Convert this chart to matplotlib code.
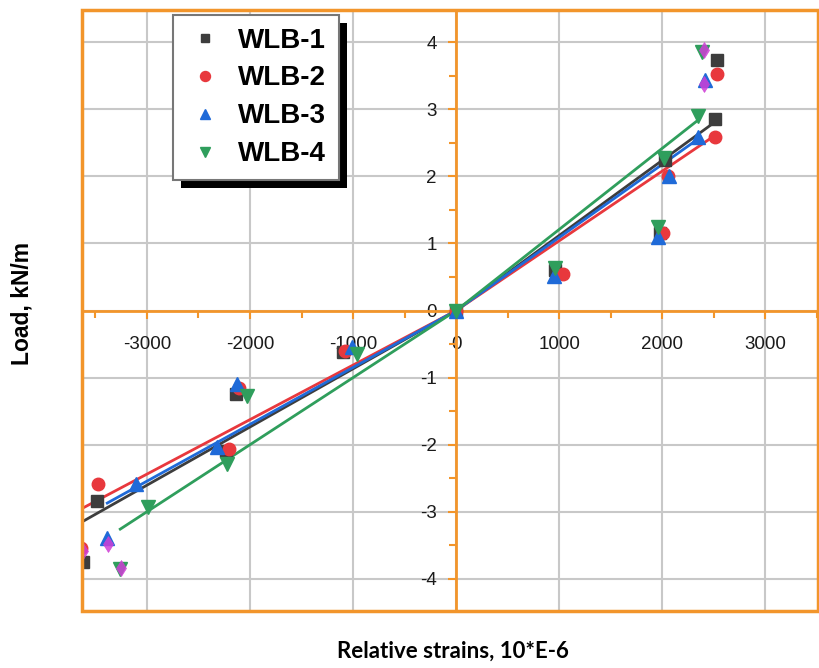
import numpy as np
import matplotlib
matplotlib.use("Agg")
import matplotlib.pyplot as plt
from matplotlib.patches import Rectangle
from matplotlib.transforms import IdentityTransform
from matplotlib.ticker import MultipleLocator

plt.rcParams["axes.unicode_minus"] = False

# data
labels = ["WLB-1", "WLB-2", "WLB-3", "WLB-4"]

x1 = [0, 960, 1980, 2030, 2507, 2527, -1100, -2137, -2234, -3483, -3620]
y1 = [0, 0.60, 1.15, 2.25, 2.85, 3.73, -0.62, -1.24, -2.10, -2.84, -3.75]

x2 = [0, 1034, 2010, 2050, 2507, 2527, -1083, -2110, -2205, -3473, -3639]
y2 = [0, 0.55, 1.15, 2.00, 2.58, 3.52, -0.60, -1.15, -2.06, -2.58, -3.54]

x3 = [0, 950, 1960, 2060, 2350, 2410, -1015, -2127, -2322, -3102, -3385]
y3 = [0, 0.52, 1.09, 2.01, 2.58, 3.43, -0.55, -1.09, -2.04, -2.58, -3.39]

x4 = [0, 955, 1960, 2020, 2350, 2380, -966, -2030, -2224, -2985, -3259]
y4 = [0, 0.64, 1.24, 2.28, 2.90, 3.85, -0.65, -1.27, -2.29, -2.93, -3.85]

# fitted slopes (load per strain), separate for each branch
slope_neg = [0.000868, 0.000813, 0.000848, 0.00100]
slope_pos = [0.00112, 0.00104, 0.00109, 0.00121]

# magenta marks at top/bottom load level
mag_x = [2400, 2400, -3378, -3252, -3625]
mag_y = [3.88, 3.38, -3.48, -3.84, -3.58]

xs = [x1, x2, x3, x4]
ys = [y1, y2, y3, y4]
colors = ["#3d3d3d", "#e8383d", "#1f6ad8", "#2f9e5c"]
markers = ["s", "o", "^", "v"]
msizes = [8, 9, 9.5, 9.5]
orange = "#f2952b"

fig = plt.figure(figsize=(8.2, 6.68), dpi=100)
ax = fig.add_axes([0.1, 0.0853, 0.8976, 0.8997])

for i in range(4):
    x = np.array(xs[i], dtype=float)
    xn = np.array([0, x.min()])
    ax.plot(xn, slope_neg[i] * xn, color=colors[i], lw=2, zorder=3)
    xp = np.array([0, np.sort(x)[-2]])
    ax.plot(xp, slope_pos[i] * xp, color=colors[i], lw=2, zorder=3)

for i in range(4):
    ax.plot(xs[i], ys[i], ls="none", marker=markers[i], ms=msizes[i],
            color=colors[i], mec=colors[i], label=labels[i], zorder=4)

ax.plot(mag_x, mag_y, ls="none", marker="d", ms=8, color="#cf3fd6",
        mec="#cf3fd6", mew=0.5, alpha=0.85, zorder=5)

ax.set_xlim(-3630, 3510)
ax.set_ylim(-4.48, 4.48)

ax.xaxis.set_major_locator(MultipleLocator(1000))
ax.xaxis.set_minor_locator(MultipleLocator(500))
ax.yaxis.set_major_locator(MultipleLocator(1))
ax.yaxis.set_minor_locator(MultipleLocator(0.5))

ax.spines["left"].set_position(("data", 0))
ax.spines["bottom"].set_position(("data", 0))
ax.spines["top"].set_visible(False)
ax.spines["right"].set_visible(False)
for s in ["left", "bottom"]:
    ax.spines[s].set_color(orange)
    ax.spines[s].set_linewidth(2)
    ax.spines[s].set_zorder(2)

ax.add_patch(Rectangle((0, 0), 1, 1, transform=ax.transAxes, fill=False,
                       edgecolor=orange, lw=2.5, clip_on=False, zorder=6))

ax.tick_params(which="both", direction="out", color=orange, width=1.5)
ax.tick_params(which="major", length=6, labelsize=13.5, labelcolor="#1a1a1a")
ax.tick_params(which="minor", length=5)
ax.tick_params(axis="x", pad=12)
ax.tick_params(axis="y", pad=8)
for t in ax.get_xticklabels() + ax.get_yticklabels():
    t.set_family("Liberation Sans")

ax.grid(True, which="major", color="#c8c8c8", lw=1.5, zorder=0)
ax.set_axisbelow(True)

fig.text(0.552, 0.025, "Relative strains, 10*E-6", ha="center", va="center",
         fontsize=16, fontweight="bold", family="Lato")
fig.text(0.027, 0.545, "Load, kN/m", ha="center", va="center", rotation=90,
         fontsize=16.5, fontweight="bold", family="Liberation Sans")

leg = ax.legend(loc="upper left", bbox_to_anchor=(173 / 820, 1 - 15 / 668),
                bbox_transform=fig.transFigure, fancybox=False, framealpha=1,
                edgecolor="#777777", prop={"family": "Liberation Sans",
                                           "weight": "bold", "size": 20},
                handlelength=1.4, handletextpad=0.5, labelspacing=0.43,
                borderpad=0.45, borderaxespad=0, markerscale=0.8)
leg.get_frame().set_linewidth(1.5)
leg.set_zorder(8)

fig.canvas.draw()
bb = leg.get_window_extent()
shadow = Rectangle((bb.x0 + 8, bb.y0 - 8), bb.width, bb.height,
                   transform=IdentityTransform(), facecolor="black",
                   edgecolor="none", zorder=7, clip_on=False)
ax.add_patch(shadow)

fig.savefig("out.png", dpi=100)
